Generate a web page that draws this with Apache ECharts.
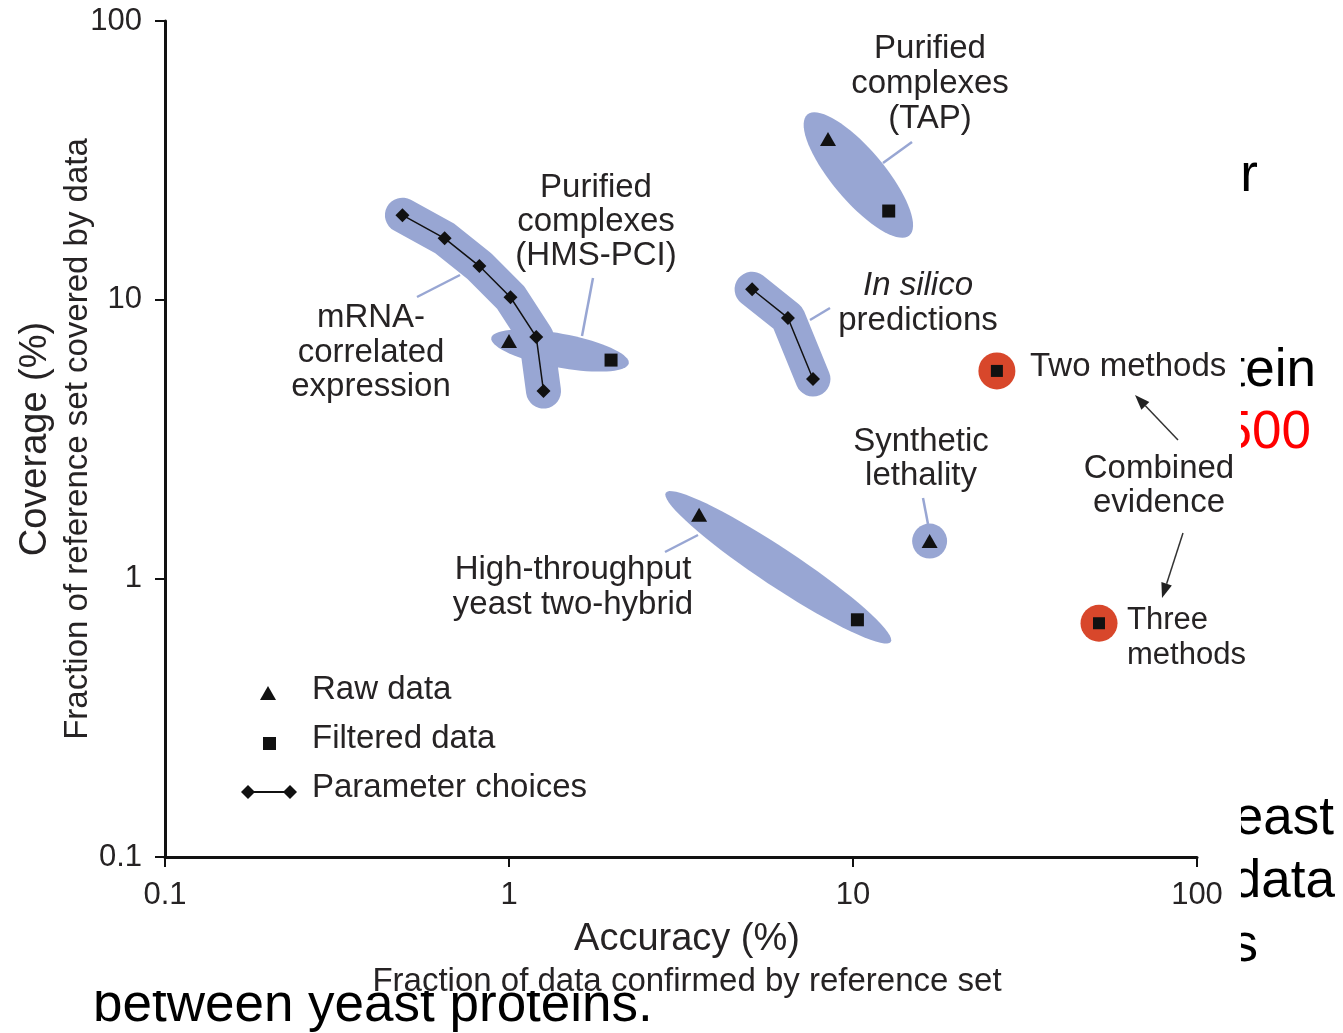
<!DOCTYPE html>
<html>
<head>
<meta charset="utf-8">
<script src="https://cdn.jsdelivr.net/npm/echarts@6/dist/echarts.min.js"></script>
<style>
  html, body { margin: 0; padding: 0; background: #fff; }
  #chart { width: 1343px; height: 1033px; }
</style>
</head>
<body>
<div id="chart"></div>
<script>
// accuracy (%) / coverage (%)
const mrnaX = [0.49, 0.65, 0.82, 1.01, 1.20, 1.26]
const mrnaY = [20.1, 16.6, 13.2, 10.2, 7.35, 4.7]
const silicoX = [5.09, 6.47, 7.65]
const silicoY = [10.9, 8.6, 5.19]
const rawX = [1.0, 8.46, 3.57, 16.7]      // HMS-PCI, TAP, Y2H, synthetic lethality
const rawY = [7.1, 37.7, 1.69, 1.36]
const filteredX = [1.98, 12.7, 10.3]      // HMS-PCI, TAP, Y2H
const filteredY = [6.07, 20.8, 0.71]
const combinedX = [26.2, 51.9]            // two methods, three methods
const combinedY = [5.55, 0.69]

const BLUE = '#98a6d3'
const RED = '#d8472b'
const INK = '#111'
const TXT = '#262324'
const FONT = 'Liberation Sans'

const zip = (xs, ys) => xs.map((x, i) => [x, ys[i]])

// blob ids: 0 mRNA, 1 HMS-PCI, 2 TAP, 3 in silico, 4 Y2H, 5 synthetic lethality
const blobData = [
  [mrnaX[0], mrnaY[0], 0],
  [rawX[0], rawY[0], 1],
  [rawX[1], rawY[1], 2],
  [silicoX[0], silicoY[0], 3],
  [rawX[2], rawY[2], 4],
  [rawX[3], rawY[3], 5]
]

function ellipsePoints(p1, p2, padA, ry) {
  const cx = (p1[0] + p2[0]) / 2, cy = (p1[1] + p2[1]) / 2
  const dx = p2[0] - p1[0], dy = p2[1] - p1[1]
  const len = Math.hypot(dx, dy)
  const ux = dx / len, uy = dy / len
  const rx = len / 2 + padA
  const pts = []
  for (let i = 0; i < 72; i++) {
    const t = i / 72 * 2 * Math.PI
    const a = rx * Math.cos(t), b = ry * Math.sin(t)
    pts.push([cx + a * ux - b * uy, cy + a * uy + b * ux])
  }
  return pts
}

function renderBlob(params, api) {
  const id = api.value(2)
  const c = (x, y) => api.coord([x, y])
  const fill = { fill: BLUE }
  if (id === 0 || id === 3) {
    const pts = id === 0 ? zip(mrnaX, mrnaY).map(p => c(p[0], p[1])) : zip(silicoX, silicoY).map(p => c(p[0], p[1]))
    return {
      type: 'polyline',
      shape: { points: pts },
      style: { stroke: BLUE, lineWidth: 35, lineCap: 'round', lineJoin: 'round', fill: null }
    }
  }
  if (id === 5) {
    const p = c(rawX[3], rawY[3])
    return { type: 'circle', shape: { cx: p[0], cy: p[1], r: 17.5 }, style: fill }
  }
  let pts
  if (id === 1) pts = ellipsePoints(c(rawX[0], rawY[0]), c(filteredX[0], filteredY[0]), 18, 17)
  if (id === 2) pts = ellipsePoints(c(rawX[1], rawY[1]), c(filteredX[1], filteredY[1]), 32, 26)
  if (id === 4) pts = ellipsePoints(c(rawX[2], rawY[2]), c(filteredX[2], filteredY[2]), 40, 19)
  return { type: 'polygon', shape: { points: pts }, style: fill }
}

// ---- annotations
const graphics = []
function text(x, y, str, opts) {
  opts = opts || {}
  graphics.push({
    type: 'text', x: x, y: y, z: opts.z == null ? 10 : opts.z, silent: true,
    style: {
      text: str, fill: opts.fill || TXT,
      fontSize: opts.size || 33, fontFamily: FONT, fontStyle: opts.italic ? 'italic' : 'normal',
      align: opts.align || 'center', textAlign: opts.align || 'center',
      verticalAlign: 'middle', textVerticalAlign: 'middle'
    }
  })
}
function label(x, y, lines, lh, align, size) {
  lines.forEach((s, i) => text(x, y + i * lh, s, { align: align, size: size }))
}
function leader(x1, y1, x2, y2) {
  graphics.push({ type: 'line', z: 9, silent: true, shape: { x1, y1, x2, y2 }, style: { stroke: BLUE, lineWidth: 2.5 } })
}
function arrow(x1, y1, x2, y2) {
  const dx = x2 - x1, dy = y2 - y1, len = Math.hypot(dx, dy)
  const ux = dx / len, uy = dy / len, hl = 15, hw = 5.5
  const bx = x2 - ux * hl, by = y2 - uy * hl
  graphics.push({ type: 'line', z: 9, silent: true, shape: { x1, y1, x2: bx, y2: by }, style: { stroke: '#333', lineWidth: 1.5 } })
  graphics.push({
    type: 'polygon', z: 9, silent: true,
    shape: { points: [[x2, y2], [bx - uy * hw, by + ux * hw], [bx + uy * hw, by - ux * hw]] },
    style: { fill: '#222' }
  })
}

label(930, 49, ['Purified', 'complexes', '(TAP)'], 35)
label(596, 188, ['Purified', 'complexes', '(HMS-PCI)'], 34)
label(371, 318, ['mRNA-', 'correlated', 'expression'], 34.5)
text(918, 286, 'In silico', { italic: true })
text(918, 321, 'predictions')
label(921, 442, ['Synthetic', 'lethality'], 34)
label(573, 570, ['High-throughput', 'yeast two-hybrid'], 35)
text(1030, 367, 'Two methods', { align: 'left' })
label(1159, 469, ['Combined', 'evidence'], 34)
label(1127, 620, ['Three', 'methods'], 35, 'left', 31)

leader(417, 297, 460, 275)
leader(582, 336, 593, 278)
leader(883, 163, 912, 142)
leader(810, 320, 830, 308)
leader(923, 498, 928, 524)
leader(665, 552, 698, 535)

arrow(1178, 440, 1135, 395)
arrow(1183, 533, 1162, 598)

// legend
graphics.push({ type: 'polygon', z: 10, silent: true, shape: { points: [[260, 700], [276, 700], [268, 686]] }, style: { fill: INK } })
graphics.push({ type: 'rect', z: 10, silent: true, shape: { x: 263, y: 737, width: 13, height: 13 }, style: { fill: INK } })
graphics.push({ type: 'line', z: 10, silent: true, shape: { x1: 248, y1: 792, x2: 290, y2: 792 }, style: { stroke: INK, lineWidth: 2 } })
;[248, 290].forEach(cx => graphics.push({
  type: 'polygon', z: 10, silent: true,
  shape: { points: [[cx - 7, 792], [cx, 785], [cx + 7, 792], [cx, 799]] }, style: { fill: INK }
}))
text(312, 690, 'Raw data', { align: 'left' })
text(312, 739, 'Filtered data', { align: 'left' })
text(312, 788, 'Parameter choices', { align: 'left' })

// page text showing around the figure, partly covered by it
const pageOpts = (align) => ({ align: align, size: 53, fill: '#000', z: 0 })
text(1258, 176, 'for', pageOpts('right'))
text(1316, 371, 'protein', pageOpts('right'))
text(1311, 433, '1,500', { align: 'right', size: 53, fill: '#ff0000', z: 0 })
text(1334, 819, 'yeast', pageOpts('right'))
text(1335, 882, 'data', pageOpts('right'))
text(1258, 946, 'interactions', pageOpts('right'))
text(93, 1006, 'between yeast proteins.', pageOpts('left'))
graphics.push({ type: 'rect', z: 1, silent: true, shape: { x: 0, y: 0, width: 1241, height: 991 }, style: { fill: '#fff' } })

const logAxis = {
  type: 'log',
  logBase: 10,
  min: 0.1,
  max: 100,
  z: 3,
  axisLine: { lineStyle: { color: INK, width: 3 } },
  axisTick: { length: 10, lineStyle: { color: INK, width: 2 } },
  splitLine: { show: false },
  minorTick: { show: false },
  axisLabel: {
    color: TXT, fontSize: 31, fontFamily: FONT,
    formatter: v => String(+(+v).toPrecision(3))
  },
  nameLocation: 'middle',
  nameMoveOverlap: false
}

const option = {
  animation: false,
  textStyle: { fontFamily: FONT },
  grid: { left: 165, right: 146, top: 21, bottom: 176, outerBoundsMode: 'none', containLabel: false },
  xAxis: Object.assign({}, logAxis, {
    axisLabel: Object.assign({}, logAxis.axisLabel, { margin: 23 }),
    name: '{a|Accuracy (%)}\n{b|Fraction of data confirmed by reference set}',
    nameGap: 61,
    nameTextStyle: {
      padding: [0, 0, 0, 12],
      rich: {
        a: { fontSize: 38, lineHeight: 44, color: TXT, fontFamily: FONT },
        b: { fontSize: 33, lineHeight: 40, color: TXT, fontFamily: FONT }
      }
    }
  }),
  yAxis: Object.assign({}, logAxis, {
    axisLabel: Object.assign({}, logAxis.axisLabel, { margin: 23 }),
    name: '{a|Coverage (%)}\n{b|Fraction of reference set covered by data}',
    nameGap: 67,
    nameTextStyle: {
      rich: {
        a: { fontSize: 38, lineHeight: 44, color: TXT, fontFamily: FONT },
        b: { fontSize: 33, lineHeight: 40, color: TXT, fontFamily: FONT }
      }
    }
  }),
  graphic: { elements: graphics },
  series: [
    {
      name: 'blobs',
      type: 'custom',
      renderItem: renderBlob,
      data: blobData,
      encode: { x: 0, y: 1 },
      clip: false,
      silent: true,
      z: 2
    },
    {
      name: 'mRNA-correlated expression',
      type: 'line',
      data: zip(mrnaX, mrnaY),
      symbol: 'diamond',
      symbolSize: 14,
      lineStyle: { color: INK, width: 1.5 },
      itemStyle: { color: INK, opacity: 1 },
      z: 4
    },
    {
      name: 'In silico predictions',
      type: 'line',
      data: zip(silicoX, silicoY),
      symbol: 'diamond',
      symbolSize: 14,
      lineStyle: { color: INK, width: 1.5 },
      itemStyle: { color: INK, opacity: 1 },
      z: 4
    },
    {
      name: 'Raw data',
      type: 'scatter',
      data: zip(rawX, rawY),
      symbol: 'triangle',
      symbolSize: [16, 14],
      itemStyle: { color: INK, opacity: 1 },
      z: 4
    },
    {
      name: 'Filtered data',
      type: 'scatter',
      data: zip(filteredX, filteredY),
      symbol: 'rect',
      symbolSize: 13,
      itemStyle: { color: INK, opacity: 1 },
      z: 4
    },
    {
      name: 'Combined evidence',
      type: 'scatter',
      data: zip(combinedX, combinedY),
      symbol: 'circle',
      symbolSize: 37,
      itemStyle: { color: RED, opacity: 1 },
      z: 4
    },
    {
      name: 'Combined evidence (filtered)',
      type: 'scatter',
      data: zip(combinedX, combinedY),
      symbol: 'rect',
      symbolSize: 12,
      itemStyle: { color: INK, opacity: 1 },
      z: 5
    }
  ]
}

const chart = echarts.init(document.getElementById('chart'))
chart.setOption(option)
</script>
</body>
</html>
